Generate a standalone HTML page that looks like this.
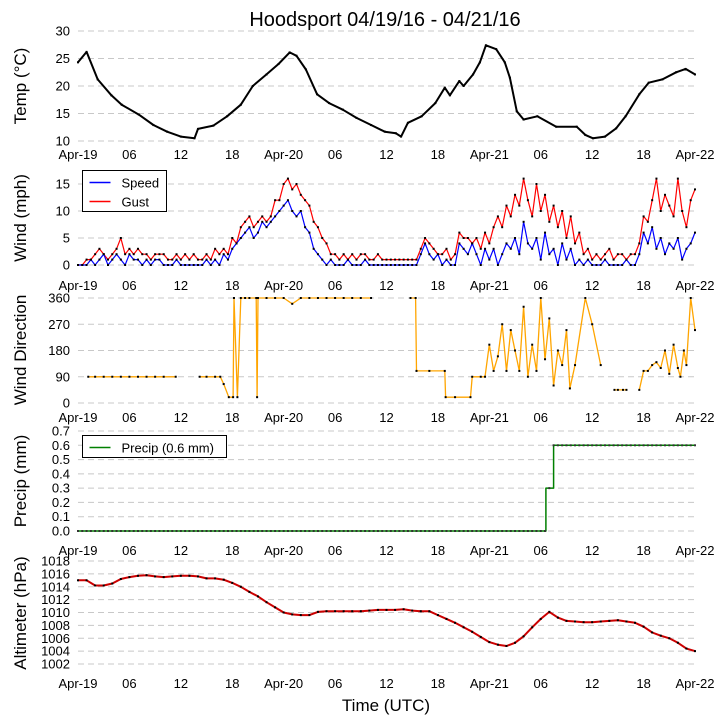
<!DOCTYPE html>
<html><head><meta charset="utf-8"><style>
body{margin:0;background:#fff;}
svg{display:block;font-family:"Liberation Sans",sans-serif;}
</style></head><body>
<svg id="chart" width="725" height="725" viewBox="0 0 725 725">
<text x="385" y="26" font-size="20" text-anchor="middle">Hoodsport 04/19/16 - 04/21/16</text>
<text x="386" y="711" font-size="17" text-anchor="middle">Time (UTC)</text>
</svg>
<script>
const xTickLabels = ["Apr-19","06","12","18","Apr-20","06","12","18","Apr-21","06","12","18","Apr-22"];
const hours = Array.from({length:73},(_,i)=>i);
const windHours = Array.from({length:145},(_,i)=>i/2);
const tempHours = [0,1,2.3,3.9,5.1,7.1,8.8,10.4,12,13.6,14,15.8,17.4,19,20.4,22,23.4,24.7,25.5,26.6,27.9,29.3,30.9,32.5,34.2,35.8,37.1,37.7,38.5,40.1,41.7,42.8,43.4,44.5,45,46.1,46.9,47.6,48.8,49.8,50.4,51.2,52,53.6,55.8,58.2,59.2,60.1,61.5,62.8,63.9,65.5,66.6,68.2,69.8,70.9,72];
const tempValues = [24.3,26.2,21.2,18.3,16.6,14.8,12.9,11.7,10.8,10.5,12.2,12.8,14.5,16.6,20,22.1,24,26.1,25.5,23,18.5,16.9,15.7,14.2,12.9,11.7,11.4,10.8,13.3,14.5,16.9,19.7,18.3,20.9,20,22.1,24.3,27.4,26.7,24.3,21.5,15.4,13.9,14.5,12.6,12.6,11.1,10.5,10.8,12.3,14.5,18.5,20.6,21.2,22.5,23.1,22.1];
const gustValues = [0,0,1,1,2,3,2,1,2,3,5,2,3,2,3,2,2,1,2,2,2,1,1,2,1,
 2,1,2,1,1,2,1,3,2,3,2,5,4,7,8,9,7,8,9,8,9,12,12,15,
 16,14,15,13,12,11,8,7,5,4,2,2,1,2,1,2,1,2,2,1,1,2,1,1,
 1,1,1,1,1,1,1,3,5,4,3,2,2,3,1,2,6,5,5,4,5,3,6,4,
 7,9,7,11,9,13,11,16,12,9,15,10,13,8,11,7,10,5,9,4,6,2,3,1,
 2,1,2,3,1,2,2,1,2,2,4,9,8,12,16,10,13,11,9,16,10,7,12,14];
const speedValues = [0,0,0,1,0,1,2,0,1,2,1,0,2,1,1,0,1,0,1,1,0,0,0,1,0,
 0,0,0,0,0,1,0,1,0,2,1,3,4,5,6,7,5,6,8,7,8,9,10,11,
 12,10,9,10,7,6,3,2,1,0,1,0,0,0,1,0,0,0,1,0,0,0,0,0,
 0,0,0,0,0,0,0,2,4,2,1,2,0,1,0,0,4,3,2,4,2,0,3,1,
 3,0,2,4,3,5,2,8,4,3,5,1,6,2,3,0,4,1,3,0,1,0,1,0,
 0,0,1,0,0,0,0,1,0,0,2,6,4,7,3,5,2,4,3,5,1,3,4,6];
const dirHours = [1.2,2,3,4,5,6,7,8,9,10,11.4,12,14.2,15,16,16.6,17,17.6,18.1,18.2,18.6,19,19.5,20,20.8,20.9,21,22,23,24,25,26,27,28,29,30,31,32,33,34.2,35,38.8,39.4,39.5,41,42.8,42.9,44,45.8,46,47,47.5,48,48.5,49,49.5,50,50.5,51,51.5,52,52.5,53,53.5,54,54.5,55,55.5,56,56.5,57,57.4,58,59.2,60,61,62,62.6,63,63.6,64,65,65.5,66,66.5,67,67.5,68,68.5,69,69.5,70,70.3,70.7,71,71.5,72];
const dirValues = [90,90,90,90,90,90,90,90,90,90,90,null,90,90,90,90,65,20,20,360,20,360,360,360,360,20,360,360,360,360,340,360,360,360,360,360,360,360,360,360,null,360,360,110,110,110,20,20,20,90,90,90,200,110,160,270,110,250,180,110,330,90,200,110,360,150,290,60,180,130,250,50,130,360,270,130,null,45,45,45,45,null,45,110,110,130,140,120,180,100,200,120,90,180,130,360,250,130,150,90,200,110,250];
const precipHours = [0,54.6,54.6,55.5,55.5,72];
const precipValues = [0,0,0.3,0.3,0.6,0.6];
const altValues = [1015,1015,1014.2,1014.2,1014.5,1015.2,1015.5,1015.7,1015.8,1015.6,1015.5,1015.6,1015.7,1015.7,1015.6,1015.3,1015.3,1015.1,1014.6,1014,1013.2,1012.5,1011.6,1010.8,1010,1009.7,1009.6,1009.6,1010.1,1010.2,1010.2,1010.2,1010.2,1010.2,1010.3,1010.4,1010.4,1010.4,1010.5,1010.3,1010.2,1010.2,1009.6,1009,1008.4,1007.7,1007,1006.2,1005.4,1005,1004.8,1005.3,1006.3,1007.7,1009,1010.1,1009.2,1008.7,1008.6,1008.5,1008.5,1008.6,1008.7,1008.8,1008.6,1008.4,1007.8,1006.9,1006.4,1006,1005.3,1004.4,1004];
const tempTicks = [10,15,20,25,30];
const windTicks = [0,5,10,15];
const dirTicks = [0,90,180,270,360];
const precipTicks = [0,0.1,0.2,0.3,0.4,0.5,0.6,0.7];
const altTicks = [1002,1004,1006,1008,1010,1012,1014,1016,1018];

const NS="http://www.w3.org/2000/svg";
const svg=document.getElementById('chart');
const X0=78, X1=695;
const x=h=>X0+h*(X1-X0)/72;
function el(tag,attrs,parent){const e=document.createElementNS(NS,tag);for(const k in attrs)e.setAttribute(k,attrs[k]);(parent||svg).appendChild(e);return e;}

const panels=[
 {name:'temp',title:'Temp (°C)',ticks:tempTicks,fmt:v=>v,y:v=>141-(v-10)*110/20,cy:86,tickRow:159},
 {name:'wind',title:'Wind (mph)',ticks:windTicks,fmt:v=>v,y:v=>265-v*81/15,cy:218,tickRow:290},
 {name:'direction',title:'Wind Direction',ticks:dirTicks,fmt:v=>v,y:v=>403-v*105/360,cy:350,tickRow:422},
 {name:'precip',title:'Precip (mm)',ticks:precipTicks,fmt:v=>v.toFixed(1),y:v=>531-v*100/0.7,cy:481,tickRow:555},
 {name:'altimeter',title:'Altimeter (hPa)',ticks:altTicks,fmt:v=>v,y:v=>664-(v-1002)*103/16,cy:613,tickRow:688}
];

panels.forEach(p=>{
  const g=el('g',{});
  
  
  p.g=g;
  p.ticks.forEach(t=>{
    const yy=p.y(t);
    const gl=el('line',{x1:X0,x2:X1,y1:yy,y2:yy,stroke:'#c8c8c8','stroke-width':1,'stroke-dasharray':'6,4'},g);
    
    
    const tl=el('text',{x:70,y:yy+4.5,'font-size':13,'text-anchor':'end'},g);
    tl.textContent=p.fmt(t);
    
    
  });
  xTickLabels.forEach((s,i)=>{
    const tl=el('text',{x:x(i*6),y:p.tickRow,'font-size':13,'text-anchor':'middle'},g);
    tl.textContent=s;
    
    
  });
  const yl=el('text',{x:0,y:0,'font-size':17,'text-anchor':'middle',transform:`translate(26,${p.cy}) rotate(-90)`},g);
  yl.textContent=p.title;
  
  
});

function series(p,hs,vs,color,name,w,dots){
  let d='',pen=false;
  hs.forEach((h,i)=>{const v=vs[i];if(v===null||v===undefined){pen=false;return;}d+=(pen?'L':'M')+x(h).toFixed(1)+','+p.y(v).toFixed(1);pen=true;});
  const path=el('path',{d:d,fill:'none',stroke:color,'stroke-width':w,'stroke-linejoin':'round'},p.g);
  
  
  if(dots){
    hs.forEach((h,i)=>{const v=vs[i];if(v===null||v===undefined)return;
      const c=el('rect',{x:x(h)-1,y:p.y(v)-1,width:2,height:2,fill:'#000'},p.g);
      
      
    });
  }
}
series(panels[0],tempHours,tempValues,'#000','temperature',2,true);
series(panels[1],windHours,gustValues,'#ff0000','gust',1.2,true);
series(panels[1],windHours,speedValues,'#0000ff','speed',1.2,true);
series(panels[2],dirHours,dirValues,'#ffa500','wind-direction',1.3,true);
series(panels[3],precipHours,precipValues,'#008000','precip',1.5,false);
(function(){const p=panels[3];for(let h=0;h<=72;h+=0.5){const v=h<54.6?0:(h<55.5?0.3:0.6);
  const c=el('rect',{x:x(h)-1,y:p.y(v)-1,width:2,height:2,fill:'#333'},p.g);
  
  }})();
series(panels[4],hours,altValues,'#cc0000','altimeter',2,true);

function legend(x0,y0,w,h,items,name){
  const g=el('g',{});
  
  
  el('rect',{x:x0,y:y0,width:w,height:h,fill:'#fff',stroke:'#000','stroke-width':1},g);
  items.forEach((it,i)=>{
    const yy=y0+12+i*19;
    el('line',{x1:x0+7,x2:x0+28,y1:yy,y2:yy,stroke:it[1],'stroke-width':1.5},g);
    const t=el('text',{x:x0+39,y:yy+5,'font-size':13},g);
    t.textContent=it[0];
    
    
  });
}
legend(82.5,170.5,84,41,[['Speed','#0000ff'],['Gust','#ff0000']],'wind-legend');
legend(82.5,435.5,144,22,[['Precip (0.6 mm)','#008000']],'precip-legend');
</script>
</body></html>
